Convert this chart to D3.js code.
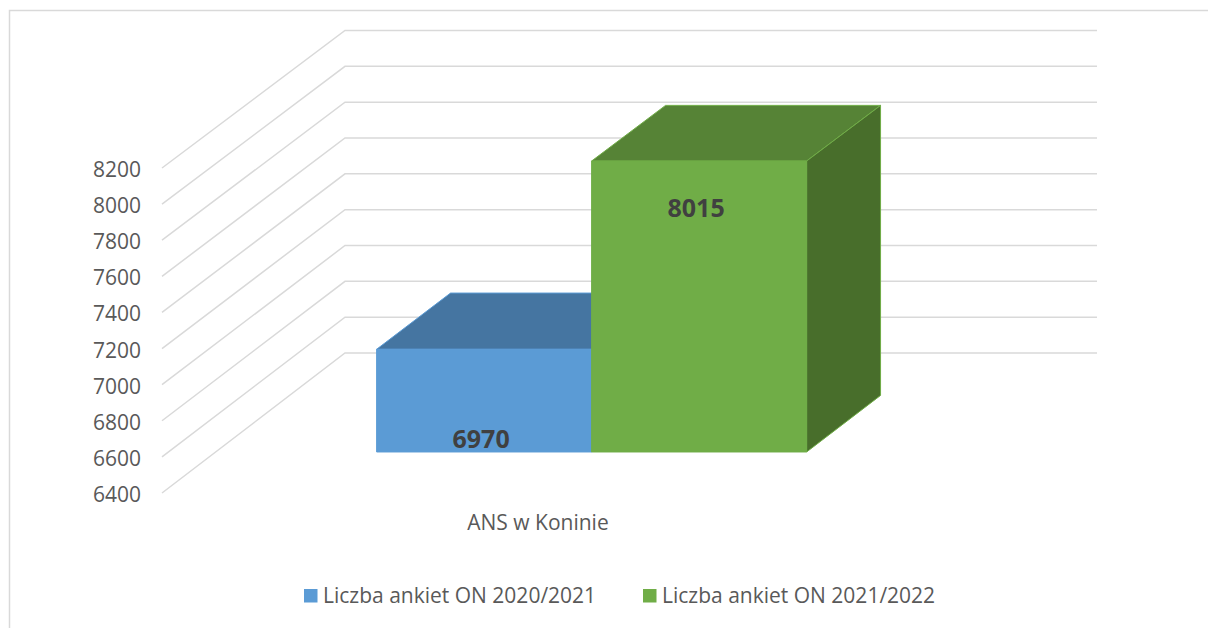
<!DOCTYPE html>
<html>
<head>
    <meta charset="utf-8">
    <title>ANS w Koninie - liczba ankiet</title>
    <script src="https://d3js.org/d3.v7.min.js"></script>
    <style>
        body { margin: 0; background: #fff; }
        svg { display: block; font-family: "Open Sans", sans-serif; }
    </style>
</head>
<body>
<svg id="chart" width="1208" height="628"></svg>
<script>
    // chart data
    var categories = ["ANS w Koninie"];
    var seriesNames = ["Liczba ankiet ON 2020/2021", "Liczba ankiet ON 2021/2022"];
    var seriesValues = [6970, 8015];
    var yTicks = [6400, 6600, 6800, 7000, 7200, 7400, 7600, 7800, 8000, 8200];

    // face colours: front, top, side
    var seriesColors = [
        {front: "#5b9bd5", top: "#4575a1", side: "#3f6d96"},
        {front: "#70ad47", top: "#568336", side: "#486e2b"}
    ];

    var svg = d3.select("#chart");

    // chart frame
    svg.append("rect")
        .attr("x", 9.5).attr("y", 10.5)
        .attr("width", 1220).attr("height", 640)
        .attr("fill", "#fff")
        .attr("stroke", "#d9d9d9")
        .attr("stroke-width", 1.5);

    // 3d projection: front plane (z=0) and back wall (z=1)
    var yFront = d3.scaleLinear().domain([6400, 8200]).range([493, 168]);
    var yBack = d3.scaleLinear().domain([6400, 8200]).range([353, 30.5]);
    var depthX = 183;

    function pt(x, v, z) {
        return [x + depthX * z, yFront(v) + (yBack(v) - yFront(v)) * z];
    }

    var xCat = d3.scaleBand().domain(categories).range([162, 914])
        .paddingInner(0).paddingOuter(0.3744);
    var xSeries = d3.scaleBand().domain(seriesNames).range([0, xCat.bandwidth()]);
    var barZ = [0.293, 0.697];
    var yMin = yTicks[0];

    // gridlines: side wall diagonal + back wall horizontal
    var grid = svg.append("g");
    grid.selectAll("path").data(yTicks).enter().append("path")
        .attr("d", function(v) {
            var a = pt(162, v, 0), b = pt(162, v, 1), c = pt(914, v, 1);
            return "M" + a + "L" + b + "L" + c;
        })
        .attr("fill", "none")
        .attr("stroke", "#d9d9d9")
        .attr("stroke-width", 1.5);

    // y axis labels
    svg.append("g").selectAll("text").data(yTicks).enter().append("text")
        .attr("x", 141)
        .attr("y", function(v) { return yFront(v) + 1; })
        .attr("text-anchor", "end")
        .attr("dominant-baseline", "central")
        .attr("font-size", 21)
        .attr("fill", "#595959")
        .text(function(v) { return v; });

    // bars
    var bars = svg.append("g");
    seriesValues.forEach(function(val, i) {
        var x0 = xCat(categories[0]) + xSeries(seriesNames[i]);
        var x1 = x0 + xSeries.bandwidth();
        var z0 = barZ[0], z1 = barZ[1];
        var col = seriesColors[i];
        var poly = function(pts) { return "M" + pts.join("L") + "Z"; };

        // top face
        bars.append("path")
            .attr("d", poly([pt(x0, val, z0), pt(x1, val, z0), pt(x1, val, z1), pt(x0, val, z1)]))
            .attr("fill", col.top).attr("stroke", col.front).attr("stroke-width", 1);
        // right side face
        bars.append("path")
            .attr("d", poly([pt(x1, yMin, z0), pt(x1, val, z0), pt(x1, val, z1), pt(x1, yMin, z1)]))
            .attr("fill", col.side).attr("stroke", col.front).attr("stroke-width", 1);
        // front face
        bars.append("path")
            .attr("d", poly([pt(x0, yMin, z0), pt(x1, yMin, z0), pt(x1, val, z0), pt(x0, val, z0)]))
            .attr("fill", col.front).attr("stroke", col.front).attr("stroke-width", 1);
    });

    // data labels (first near the bottom of its bar, second near the top)
    var labelOffsets = [-4, 56];
    svg.append("g").selectAll("text").data(seriesValues).enter().append("text")
        .attr("x", function(v, i) {
            return xCat(categories[0]) + xSeries(seriesNames[i]) + xSeries.bandwidth() / 2 + depthX * barZ[0] - 3;
        })
        .attr("y", function(v, i) {
            var top = pt(0, v, barZ[0])[1], bottom = pt(0, yMin, barZ[0])[1];
            return i === 0 ? bottom + labelOffsets[i] : top + labelOffsets[i];
        })
        .attr("text-anchor", "middle")
        .attr("font-size", 25)
        .attr("font-weight", "bold")
        .attr("fill", "#404040")
        .text(function(v) { return v; });

    // category label
    svg.append("text")
        .attr("x", xCat(categories[0]) + xCat.bandwidth() / 2)
        .attr("y", 530)
        .attr("text-anchor", "middle")
        .attr("font-size", 21)
        .attr("fill", "#595959")
        .text(categories[0]);

    // legend
    var legendX = [304, 643];
    var legend = svg.append("g").selectAll("g").data(seriesNames).enter().append("g")
        .attr("transform", function(d, i) { return "translate(" + legendX[i] + ",589)"; });
    legend.append("rect")
        .attr("width", 13.5).attr("height", 13.5)
        .attr("fill", function(d, i) { return seriesColors[i].front; });
    legend.append("text")
        .attr("x", 19)
        .attr("y", 14)
        .attr("font-size", 21)
        .attr("fill", "#595959")
        .text(function(d) { return d; });
</script>
</body>
</html>
